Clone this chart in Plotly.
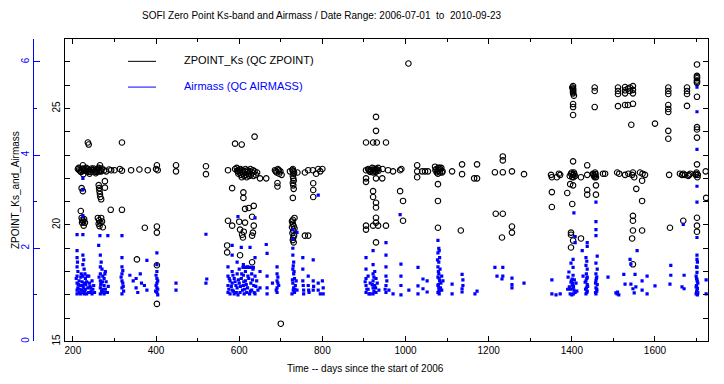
import plotly.graph_objects as go

# ---------------- ZPOINT_Ks data (days since start of 2006, zero point) ----------------
zp_days_2006 = [212,215,218,221,224,227,230,233,236,239,242,245,248,252,255,258,261,264,267,270,275,280,287,292,300,313,318,
                224,265,236,238,318,221,224,262,263,264,265,266,268,277,277,219,221,223,225,222,227,229,226,
                260,263,266,268,270,264,272,262,291,318,354,373,402,402,402,402,402,404,400,448,448,340,360,380,
                214,220,226,232,238,244,250,256,262,268,225,240,255]
zp_vals_2006 = [22.40,22.35,22.30,22.38,22.42,22.33,22.36,22.30,22.40,22.35,22.28,22.42,22.35,22.30,22.38,22.33,22.40,22.30,22.36,22.42,22.35,22.30,22.38,22.35,22.35,22.40,22.33,
                22.56,22.56,23.54,23.45,23.54,21.58,21.45,21.71,21.58,21.45,21.33,21.20,21.10,21.88,21.60,20.60,20.30,20.22,20.15,20.10,20.25,20.10,19.97,
                20.30,20.20,20.10,20.30,20.15,19.95,19.90,20.05,20.65,20.65,18.52,19.88,19.93,19.67,18.27,16.61,22.56,22.35,22.40,22.30,22.56,22.35,22.38,22.35,
                22.45,22.28,22.40,22.45,22.28,22.36,22.42,22.28,22.45,22.30,22.18,22.20,22.22]

zp_days_2007 = [520,520,590,606,637,
                573,590,595,597,600,602,604,606,608,610,612,614,616,618,620,622,624,626,628,631,634,637,640,643,650,665,686,690,693,696,699,702,
                692,692,583,610,610,
                614,623,635,631,573,600,614,583,635,602,611,633,607,631,571,571,602,631,609,
                729,730,731,729,730,731,729,730,731,729,729,
                727,729,731,733,730,728,732,730,729,731,733,727,
                758,766,722,740,758,766,777,790,800,785,795,778,778,778,700,
                594,598,603,609,615,621,627,633,688,695,728,732]
zp_vals_2007 = [22.52,22.18,23.49,23.45,23.79,
                22.35,22.40,22.33,22.30,22.38,22.25,22.15,22.05,22.35,22.20,22.10,22.30,22.15,22.05,22.35,22.20,22.10,22.30,22.15,22.25,22.10,22.30,22.15,22.25,22.00,22.00,22.35,22.25,22.40,22.20,22.30,22.15,
                21.80,21.65,21.58,21.40,21.16,
                20.69,20.73,20.82,20.35,20.18,20.14,20.10,19.97,19.97,19.80,19.71,19.67,19.58,19.54,19.12,18.82,18.70,18.40,19.46,
                22.40,22.30,22.20,22.10,22.00,21.90,21.80,21.70,21.55,21.16,20.22,
                20.15,20.05,19.95,19.85,19.75,19.65,19.55,19.45,19.35,19.25,20.30,19.90,
                19.54,19.54,22.30,22.25,22.25,22.35,22.35,22.40,22.40,22.20,22.30,21.79,21.50,21.20,15.76,
                22.45,22.20,22.40,22.28,22.40,22.28,22.40,22.35,22.30,22.35,22.35,22.25]

zp_days_2008 = [929,929,905,922,931,953,
                905,910,914,918,920,922,925,928,930,932,935,945,958,970,987,990,
                905,929,944,905,922,922,929,929,987,994,929,929,905,922,934,953,905,929,994,
                1007,
                1028,1028,1028,1040,1047,1054,1071,1074,1077,1080,1083,1086,1089,1078,1082,1112,1136,1136,1172,1165,1172,1215,1234,1234,1234,1256,1285,
                1078,1078,1078,1133,1217,1234,1256,1256,1232,
                912,916,924,927,934,1072,1075,1079,1084,1088]
zp_vals_2008 = [24.64,24.04,23.54,23.54,23.54,23.54,
                22.35,22.40,22.30,22.35,22.45,22.25,22.35,22.40,22.30,22.38,22.33,22.40,22.35,22.30,22.35,22.40,
                22.00,22.00,22.00,21.85,21.45,21.20,20.95,20.75,21.45,21.03,20.31,20.10,19.97,19.97,19.97,19.97,19.80,19.25,20.18,
                26.93,
                22.56,22.30,22.05,22.30,22.30,22.30,22.50,22.40,22.30,22.35,22.25,22.45,22.30,22.20,22.45,22.30,22.60,22.18,22.60,22.00,22.00,22.26,22.26,22.94,22.77,22.30,22.18,
                21.75,21.03,19.88,19.76,20.48,20.48,19.93,19.67,19.46,
                22.35,22.28,22.42,22.28,22.45,22.35,22.25,22.45,22.38,22.25]

zp_days_2009 = [1352,1364,1352,1352,
                1403,1403,1403,1403,1405,1401,1403,1403,1403,
                1455,1455,1455,
                1511,1511,1511,1528,1528,1528,1535,1540,1540,1547,1547,1547,1511,1528,1535,1547,
                1543,1600,
                1632,1632,1632,1632,1632,1632,1632,1632,
                1677,1677,1677,1677,
                1701,1701,1701,1701,1701,1701,1701,1701,1701,
                1350,1369,1372,1395,1398,1401,1403,1405,1408,1422,1437,1451,1454,1456,1458,1475,1480,1509,1514,1528,1536,1545,1547,1550,1564,1570,1576,1634,1660,1665,1668,1672,1698,1700,1702,1722,
                1396,1403,1437,1437,1458,1458,1555,1569,1569,1389,1401,1403,1437,1701,1723,
                1398,1398,1403,1398,1422,1547,1547,1547,1545,1569,1636,1668,1701,1701,1701,1547,
                1400,1404,1406,1452,1455,1457,1682,1685,1680,1699,1703,1403,1403,1701,1701]
zp_vals_2009 = [22.05,22.05,21.41,20.77,
                25.96,25.85,25.75,25.65,25.55,25.90,25.19,25.06,24.72,
                25.90,25.75,25.06,
                25.90,25.75,25.62,25.92,25.78,25.65,25.85,25.90,25.75,25.96,25.80,25.65,25.10,25.15,25.15,25.20,
                24.30,24.35,
                25.90,25.75,25.62,25.15,24.98,24.85,24.04,23.70,
                25.90,25.75,25.62,25.11,
                26.89,26.40,26.30,26.20,26.10,25.50,24.20,24.10,23.75,
                22.15,22.20,22.15,22.10,22.20,22.05,22.15,22.25,22.10,22.05,22.15,22.20,22.10,22.25,22.05,22.20,22.20,22.25,22.20,22.15,22.20,22.15,22.25,22.05,22.25,22.20,22.15,22.15,22.20,22.15,22.20,22.15,22.15,22.25,22.05,22.30,
                21.75,21.70,21.50,21.30,21.70,21.30,21.55,21.90,21.03,21.37,20.90,22.73,22.56,22.60,21.16,
                19.67,19.58,19.33,19.03,19.42,20.39,20.18,19.76,19.42,19.76,19.88,20.18,20.31,19.97,19.71,18.31,
                22.25,22.05,22.18,22.15,22.05,22.18,22.15,22.20,22.10,22.20,22.15,25.70,25.80,26.15,26.35]

# ---------------- Airmass data (days since start of 2006, airmass) ----------------
am_days_2006 = [210,224,224,224,224,
                210,210,210,210,210,210,210,212,212,215,215,218,218,220,221,224,224,224,224,224,227,227,227,230,230,233,233,236,238,240,240,243,246,246,250,252,
                262,265,266,266,266,266,266,266,268,268,270,270,272,272,275,275,275,278,278,280,283,285,284,
                318,318,318,318,318,318,318,320,322,
                337,345,352,352,356,362,365,372,378,378,
                402,402,402,402,402,402,402,404,400,448,448,
                208,213,216,219,222,225,228,231,234,237,241,244,248,211,226,229,263,267,269,271,274,277,279,316,320,321,400,404,399,404]
am_vals_2006 = [2.29,2.29,3.50,3.25,2.70,
                1.95,1.80,1.60,1.40,1.25,1.10,1.02,1.50,1.15,1.30,1.05,1.20,1.02,1.45,1.10,1.85,1.65,1.40,1.20,1.05,1.55,1.25,1.02,1.35,1.12,1.28,1.02,1.15,1.40,1.25,1.05,1.15,1.30,1.02,1.20,1.05,
                2.06,2.27,1.85,1.60,1.45,1.30,1.15,1.02,1.70,1.25,1.55,1.10,1.40,1.05,1.35,1.20,1.02,1.50,1.12,1.28,1.05,1.18,2.27,
                2.27,1.80,1.60,1.45,1.30,1.15,1.02,1.25,1.08,
                1.42,1.30,1.35,1.15,1.05,1.45,1.25,1.20,1.74,1.10,
                1.90,1.65,1.50,1.35,1.25,1.15,1.05,1.00,1.20,1.25,1.10,
                1.35,1.22,1.12,1.38,1.28,1.15,1.08,1.22,1.40,1.05,1.18,1.08,1.12,1.70,1.75,1.45,1.38,1.22,1.08,1.28,1.12,1.45,1.05,1.38,1.52,1.18,1.42,1.30,1.08,1.12]

am_days_2007 = [520,522,520,
                573,573,573,573,578,578,583,583,583,583,583,588,588,592,595,595,595,597,597,600,600,602,605,605,608,610,610,610,612,615,615,618,620,620,623,625,626,628,630,630,633,635,638,638,638,638,642,645,650,650,
                609,614,619,624,629,634,
                665,667,667,667,667,680,691,691,691,691,691,693,695,
                729,729,729,729,731,729,731,733,729,731,733,727,735,739,737,739,
                753,753,753,755,755,766,766,768,778,778,778,790,790,790,795,800,802,802,
                575,576,581,585,586,590,593,598,603,606,611,613,617,621,627,632,636,640,689,693,730,728,732,730,734,754,767,779]
am_vals_2007 = [2.30,1.34,1.25,
                1.60,1.40,1.20,1.05,1.30,1.02,2.06,1.85,1.50,1.25,1.10,1.35,1.02,1.20,1.70,1.45,1.15,2.68,1.00,1.55,1.25,1.05,2.02,1.35,1.10,1.65,1.42,1.20,1.02,1.50,1.30,1.05,1.60,1.15,1.35,1.02,2.02,1.25,1.45,1.10,1.55,1.20,2.65,1.80,1.40,1.02,1.30,1.10,1.50,1.15,
                1.59,1.59,1.59,1.59,1.59,1.59,
                2.08,1.89,1.40,1.15,1.02,1.25,1.60,1.45,1.30,1.15,1.05,1.38,1.20,
                2.40,2.20,2.00,1.85,1.70,1.55,1.45,1.35,1.25,1.15,1.05,1.02,1.20,2.34,1.30,1.10,
                1.80,1.55,1.30,1.10,1.02,1.40,1.20,1.05,1.75,1.30,1.10,3.14,1.25,1.10,1.02,1.30,1.15,1.02,
                1.12,1.35,1.18,1.42,1.08,1.28,1.05,1.32,1.18,1.45,1.28,1.12,1.22,1.40,1.08,1.32,1.05,1.18,1.10,1.25,1.10,1.32,1.50,1.62,1.12,1.20,1.10,1.18]

am_days_2008 = [905,905,905,905,905,910,910,915,915,922,922,922,922,922,922,926,926,929,929,932,936,953,953,953,953,953,953,960,970,
                987,989,989,989,989,1008,1030,1030,1030,1042,1042,1052,1052,
                1078,1080,1078,1082,1080,1078,1083,1080,1078,1082,1085,1078,1080,1083,1078,1081,1087,1087,1090,
                1112,1112,1136,1138,1136,1136,1167,1172,
                1215,1234,1220,1234,1232,1256,1256,1256,1285,
                1352,1352,1362,
                907,903,912,920,924,924,928,955,951,1079,1081,1079,1084,1080,1077,1081,1138]
am_vals_2008 = [1.80,1.55,1.35,1.20,1.05,1.40,1.12,1.25,1.02,1.95,1.65,1.45,1.30,1.15,1.02,1.50,1.20,1.35,1.05,1.25,1.10,2.12,1.85,1.60,1.40,1.20,1.05,1.10,1.02,
                2.72,1.66,1.40,1.20,1.00,1.10,1.59,1.19,1.02,1.34,1.13,1.30,1.06,
                2.17,2.00,1.90,1.80,1.70,1.60,1.55,1.45,1.38,1.30,1.25,1.20,1.15,1.10,1.05,1.02,1.40,1.10,1.30,
                1.23,1.02,1.44,1.32,1.13,1.06,1.02,1.08,
                1.59,1.59,1.40,1.40,1.34,1.36,1.22,1.15,1.25,
                1.32,1.02,1.00,
                1.12,1.28,1.02,1.22,1.38,1.08,1.15,1.30,1.12,1.50,1.35,1.22,1.15,1.08,1.75,1.95,1.20]

am_days_2009 = [1372,
                1405,1408,1408,1403,1398,1403,1393,1403,1401,1391,1398,1401,1403,1405,1408,1396,1400,1410,1394,1412,1390,
                1425,1437,1437,1434,1436,1434,1437,1435,1437,1434,1437,1435,1437,1434,1432,1427,
                1458,1458,1458,1458,1461,1458,1461,1458,1460,1458,1461,1458,1460,1458,
                1487,1509,1506,1513,
                1525,1528,1540,1542,1557,1552,1542,1547,1550,1554,
                1569,1569,1581,1581,1600,
                1638,1638,1636,1670,1665,1670,
                1701,1701,1701,1701,1701,1668,1701,1701,1701,1701,1701,1699,1701,1703,1699,1701,1703,1699,
                1723,1723,
                1399,1402,1404,1397,1406,1404,1436,1433,1438,1436,1459,1457,1460,1457,1510,1700,1702,1700,1702,1700,1702,1700,1702]
am_vals_2009 = [1.02,
                2.76,2.25,2.12,1.76,1.68,1.59,1.49,1.42,1.34,1.38,1.27,1.21,1.15,1.10,1.05,1.02,1.00,1.25,1.17,1.08,1.12,
                1.95,2.12,2.04,1.80,1.72,1.63,1.55,1.45,1.38,1.30,1.22,1.15,1.08,1.02,1.27,1.40,
                2.99,2.57,2.40,2.27,1.83,1.68,1.55,1.45,1.38,1.30,1.22,1.15,1.08,1.02,
                1.38,1.02,1.04,1.00,
                1.44,1.23,1.76,1.66,1.95,1.44,1.23,1.13,1.04,1.17,
                1.30,1.10,1.40,1.02,1.19,
                1.63,1.42,1.23,1.42,1.17,1.13,
                5.46,4.93,4.12,3.33,2.99,2.51,2.23,1.85,1.76,1.59,1.48,1.40,1.32,1.25,1.17,1.10,1.04,1.02,
                1.32,1.02,
                1.30,1.24,1.18,1.12,1.32,1.02,1.35,1.12,1.18,1.05,1.35,1.25,1.12,1.05,1.06,1.35,1.28,1.20,1.14,1.06,1.00,1.60,1.70]

zp_days = zp_days_2006 + zp_days_2007 + zp_days_2008 + zp_days_2009
zp_vals = zp_vals_2006 + zp_vals_2007 + zp_vals_2008 + zp_vals_2009
am_days = am_days_2006 + am_days_2007 + am_days_2008 + am_days_2009
am_vals = am_vals_2006 + am_vals_2007 + am_vals_2008 + am_vals_2009

W, H = 724, 384
FONT = "Liberation Sans"
BLUE = "#0000ff"

def px(x):
    return x / W

def py(y):
    return 1 - y / H

fig = go.Figure()
fig.add_trace(go.Scatter(
    x=zp_days, y=zp_vals, mode="markers", yaxis="y",
    marker=dict(symbol="circle-open", size=5.5, color="black", line=dict(width=1.1, color="black")),
    showlegend=False, hoverinfo="skip"))
fig.add_trace(go.Scatter(
    x=am_days, y=am_vals, mode="markers", yaxis="y2",
    marker=dict(symbol="square", size=3.2, color=BLUE, line=dict(width=0)),
    showlegend=False, hoverinfo="skip"))

xdom = [px(65), px(708)]
ydom = [py(345), py(39)]

fig.update_layout(
    width=W, height=H,
    margin=dict(l=0, r=0, t=0, b=0),
    paper_bgcolor="white", plot_bgcolor="white",
    font=dict(family=FONT, size=10, color="black"),
    xaxis=dict(
        domain=xdom, range=[181, 1727.5], showgrid=False, zeroline=False,
        showline=True, linecolor="black", linewidth=1, mirror="ticks",
        ticks="inside", ticklen=5, tickcolor="black", tickwidth=1,
        tickvals=[200, 400, 600, 800, 1000, 1200, 1400, 1600],
        ticktext=["200", "400", "600", "800", "1000", "1200", "1400", "1600"],
        minor=dict(tickvals=[300, 500, 700, 900, 1100, 1300, 1500, 1700], ticks="inside", ticklen=3, tickcolor="black"),
        tickfont=dict(family=FONT, size=10, color="black"),
    ),
    yaxis=dict(
        domain=ydom, range=[15, 28], showgrid=False, zeroline=False,
        showline=True, linecolor="black", linewidth=1, mirror="ticks",
        ticks="inside", ticklen=5, tickcolor="black",
        tickvals=[15, 20, 25], ticktext=["15", "20", "25"], tickangle=-90,
        minor=dict(dtick=1, ticks="inside", ticklen=5, tickcolor="black"),
        tickfont=dict(family=FONT, size=10, color="black"),
    ),
    yaxis2=dict(
        domain=ydom, range=[0, 6.5], overlaying="y", side="left",
        anchor="free", position=px(33), showgrid=False, zeroline=False,
        showline=True, linecolor=BLUE, linewidth=1,
        ticks="inside", ticklen=6, tickcolor=BLUE,
        tickvals=[0, 2, 4, 6], ticktext=["0", "2", "4", "6"], tickangle=-90,
        minor=dict(dtick=1, ticks="inside", ticklen=3, tickcolor=BLUE),
        tickfont=dict(family=FONT, size=10, color=BLUE),
    ),
)

annotations = [
    dict(text="SOFI Zero Point Ks-band and Airmass / Date Range: 2006-07-01  to  2010-09-23",
         x=px(140), y=py(16), xanchor="left", yanchor="middle", font=dict(size=10, color="black")),
    dict(text="Time -- days since the start of 2006", x=px(365), y=py(372),
         xanchor="center", yanchor="middle", font=dict(size=10, color="black")),
    dict(text="ZPOINT_Ks_and_Airmass", x=px(15), y=py(192), textangle=-90,
         xanchor="center", yanchor="middle", font=dict(size=10, color="black")),
    dict(text="ZPOINT_Ks (QC ZPOINT)", x=px(182), y=py(61), xanchor="left", yanchor="middle",
         font=dict(size=11, color="black")),
    dict(text="Airmass (QC AIRMASS)", x=px(182), y=py(87), xanchor="left", yanchor="middle",
         font=dict(size=11, color=BLUE)),
]
for a in annotations:
    a.update(xref="paper", yref="paper", showarrow=False)
fig.update_layout(annotations=annotations)

fig.add_shape(type="line", xref="paper", yref="paper", x0=px(128), x1=px(156), y0=py(62), y1=py(62),
              line=dict(color="black", width=1))
fig.add_shape(type="line", xref="paper", yref="paper", x0=px(128), x1=px(156), y0=py(88), y1=py(88),
              line=dict(color=BLUE, width=1))

fig.write_html("out.html",
               config={"displayModeBar": False, "staticPlot": True},
               post_script="document.body.style.margin='0px';document.body.style.overflow='hidden';")
